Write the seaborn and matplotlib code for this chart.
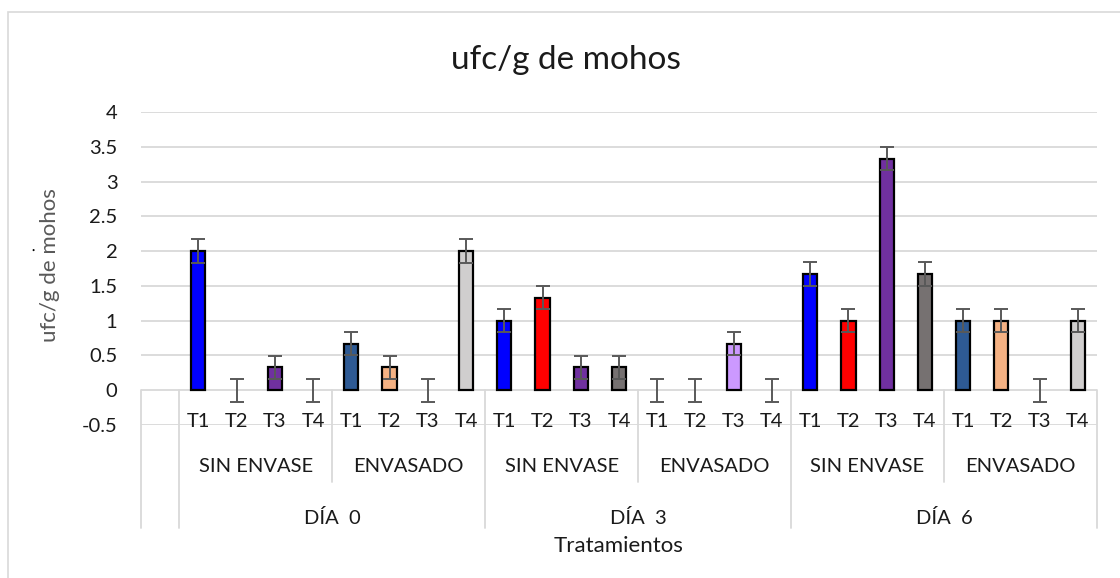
"""Excel-style grouped bar chart: ufc/g de mohos by day, packaging and treatment."""

import matplotlib

matplotlib.use("Agg")
import matplotlib.pyplot as plt
import pandas as pd
import seaborn as sns
from matplotlib.patches import Rectangle

DAYS = ["DÍA  0", "DÍA  3", "DÍA  6"]
PACKS = ["SIN ENVASE", "ENVASADO"]
TREATS = ["T1", "T2", "T3", "T4"]

# values per day, per packaging, per treatment (T1..T4)
VAL_D0_SIN = [2.0, 0.0, 0.33, 0.0]
VAL_D0_ENV = [0.67, 0.33, 0.0, 2.0]
VAL_D3_SIN = [1.0, 1.33, 0.33, 0.33]
VAL_D3_ENV = [0.0, 0.0, 0.67, 0.0]
VAL_D6_SIN = [1.67, 1.0, 3.33, 1.67]
VAL_D6_ENV = [1.0, 1.0, 0.0, 1.0]
ERR = 0.167

COL_SIN = ["#0000FF", "#FF0000", "#7030A0", "#767171"]
COL_ENV = ["#2E5A94", "#F4B183", "#CC99FF", "#D0CECE"]

GRID = "#D9D9D9"
TEXT = "#1A1A1A"

values = [VAL_D0_SIN, VAL_D0_ENV, VAL_D3_SIN, VAL_D3_ENV, VAL_D6_SIN, VAL_D6_ENV]
rows = []
for d_i, day in enumerate(DAYS):
    for p_i, pack in enumerate(PACKS):
        vals = values[d_i * 2 + p_i]
        cols = COL_SIN if p_i == 0 else COL_ENV
        for t, v, c in zip(TREATS, vals, cols):
            rows.append({"key": f"{day}|{pack}|{t}", "day": day, "pack": pack,
                         "treat": t, "value": v, "color": c})
df = pd.DataFrame(rows)
order = [""] + df["key"].tolist()  # Excel leaves an empty first category

sns.set_style("white")
plt.rcParams["font.family"] = ["Lato", "DejaVu Sans"]

fig = plt.figure(figsize=(11.2, 5.78), dpi=100)
ax = fig.add_axes([141 / 1120, 1 - 425 / 578, 956 / 1120, 313 / 578])

sns.barplot(data=df, x="key", y="value", hue="key", order=order,
            palette=dict(zip(df["key"], df["color"])), legend=False, saturation=1,
            width=0.37, edgecolor="black", linewidth=1.6, ax=ax, zorder=3)
for p in ax.patches:
    if p.get_height() == 0:
        p.set_visible(False)

xpos = [order.index(k) for k in df["key"]]
ax.errorbar(xpos, df["value"], yerr=ERR, fmt="none", ecolor="#595959",
            elinewidth=1.4, capsize=5, capthick=1.4, zorder=4)

ax.set_xlim(-0.5, len(order) - 0.5)
ax.set_ylim(-0.5, 4)
ax.set_yticks([-0.5, 0, 0.5, 1, 1.5, 2, 2.5, 3, 3.5, 4])
ax.set_yticklabels(["-0.5", "0", "0.5", "1", "1.5", "2", "2.5", "3", "3.5", "4"])
ax.tick_params(axis="y", length=0, pad=17, labelsize=14.5, labelcolor=TEXT)
ax.set_xticks([])
ax.set_xlabel("")
ax.set_ylabel("")
ax.yaxis.grid(True, color=GRID, lw=1.3, zorder=0)
ax.set_axisbelow(True)
for s in ax.spines.values():
    s.set_visible(False)

# multi-level category table under the axis
y_t, y_p, y_d, y_bot, y_sub = -0.45, -1.10, -1.84, -1.98, -1.32
lk = dict(color=GRID, lw=1.3, clip_on=False, zorder=1)
for x in [-0.5, 0.5, 8.5, 16.5, 24.5]:
    ax.plot([x, x], [0, y_bot], **lk)
for x in [4.5, 12.5, 20.5]:
    ax.plot([x, x], [0, y_sub], **lk)

for i, r in df.iterrows():
    ax.text(xpos[i], y_t, r["treat"], ha="center", va="center", fontsize=14.5, color=TEXT)
for g in range(6):
    ax.text(1 + g * 4 + 1.5, y_p, PACKS[g % 2], ha="center", va="center",
            fontsize=14.5, color=TEXT)
for d in range(3):
    ax.text(1 + d * 8 + 3.5, y_d, DAYS[d], ha="center", va="center",
            fontsize=14.5, color=TEXT)
ax.text(12, -2.24, "Tratamientos", ha="center", va="center", fontsize=16, color=TEXT)

fig.text(50 / 1120, 1 - 265 / 578, "ufc/g de mohos", rotation=90, ha="center",
         va="center", fontsize=16, color="#595959")
fig.text(33 / 1120, 1 - 250 / 578, "•", ha="center", va="center",
         fontsize=4, color="black")
fig.text(566 / 1120, 1 - 60 / 578, "ufc/g de mohos", ha="center", va="center",
         fontsize=24, color=TEXT)

fig.patches.append(Rectangle((8 / 1120, -0.05), 1.2, 1 - 12 / 578 + 0.05,
                             transform=fig.transFigure, fill=False,
                             edgecolor=GRID, lw=1.2))

fig.savefig("out.png", dpi=100, facecolor="white")
